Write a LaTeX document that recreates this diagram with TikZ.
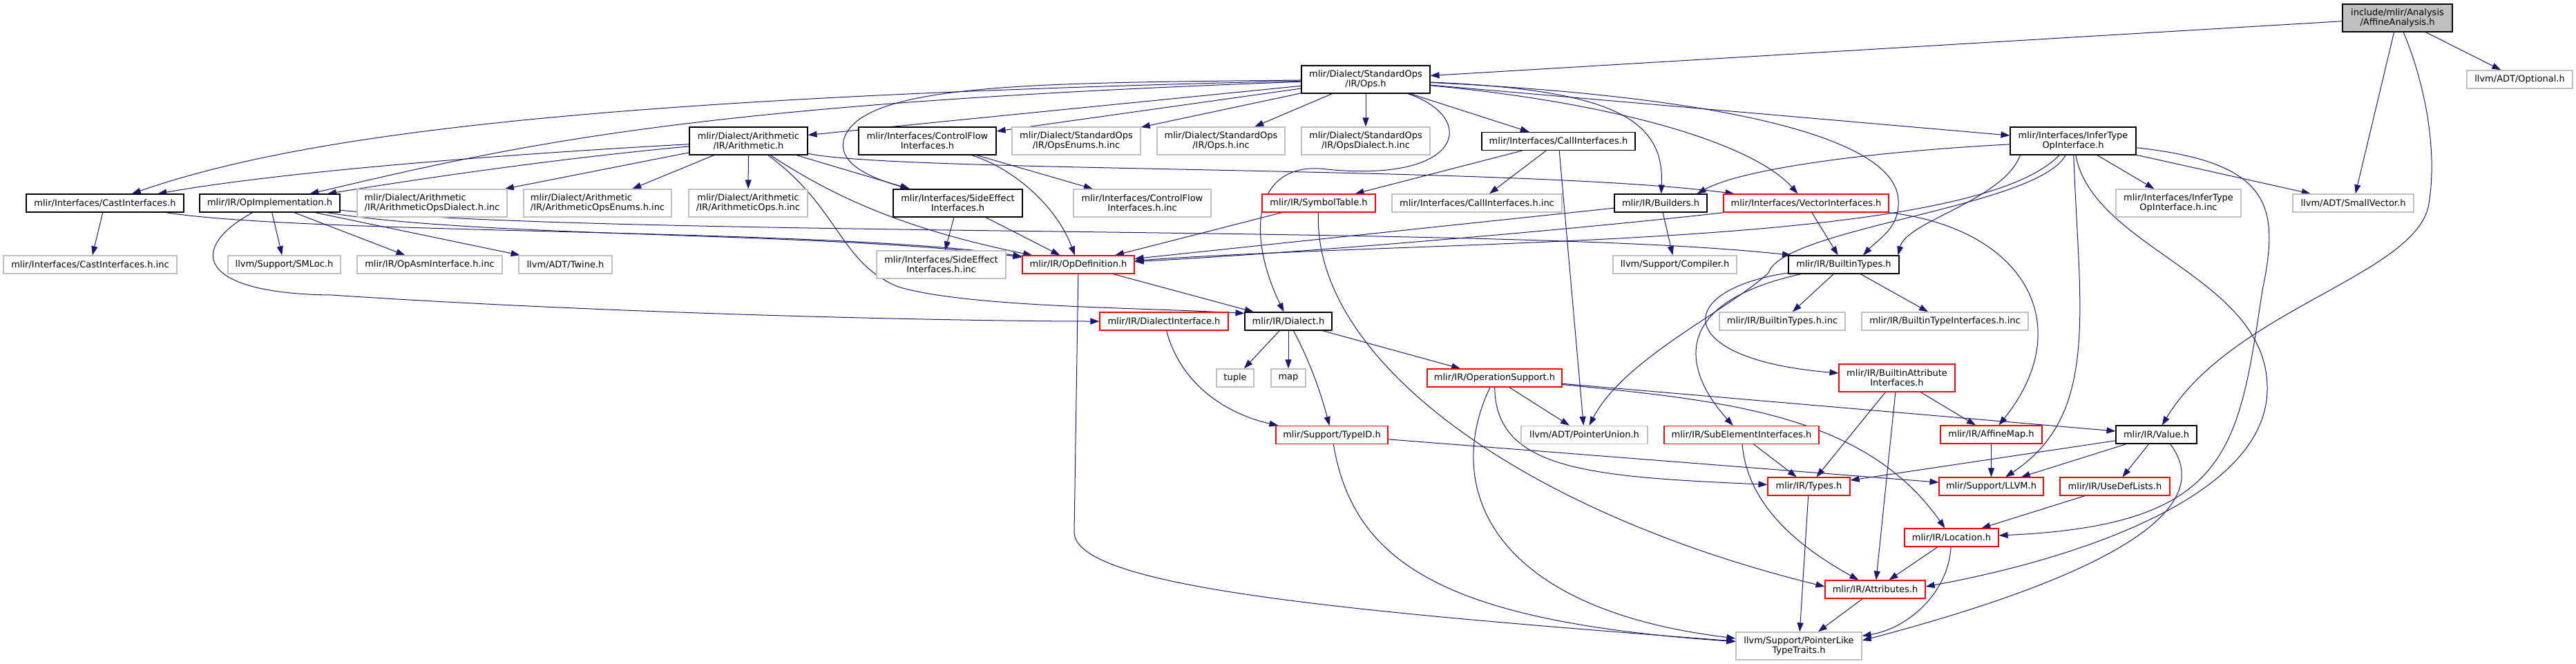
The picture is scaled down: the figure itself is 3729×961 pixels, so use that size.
\documentclass[tikz,border=0pt]{standalone}
\usepackage{fontspec}
\setmainfont{DejaVu Sans}
\usetikzlibrary{arrows.meta}
\definecolor{edgeblue}{HTML}{191970}
\definecolor{boxgray}{HTML}{BFBFBF}
\definecolor{truncred}{HTML}{FF0000}
\pgfdeclarelayer{edges}
\pgfsetlayers{edges,main}
\tikzset{
  box/.style={rectangle, inner sep=0pt, align=center, fill=white, line width=1.1pt,
    font=\fontsize{13}{14}\selectfont},
  wh/.style 2 args={minimum width=#1pt, minimum height=#2pt},
  docbox/.style={box, draw=black},
  redbox/.style={box, draw=truncred},
  extbox/.style={box, draw=boxgray, line width=1.4pt},
  rootbox/.style={box, draw=black, fill=boxgray},
  dep/.style={draw=edgeblue, line width=1pt, -{Triangle[length=13pt,width=9pt]}},
}

\begin{document}
\begin{tikzpicture}[x=1pt, y=-1pt]
\path[use as bounding box] (0,0) rectangle (3729,961);

% files
\node[rootbox, wh={159}{40}] (aa) at (3470.5,26) {include/mlir/Analysis\\/AffineAnalysis.h};
\node[extbox, wh={153}{26}] (opt) at (3647.5,115) {llvm/ADT/Optional.h};
\node[docbox, wh={186}{40}] (ops) at (1977,115) {mlir/Dialect/StandardOps\\/IR/Ops.h};

\node[docbox, wh={171}{40}] (arith) at (1083.5,204) {mlir/Dialect/Arithmetic\\/IR/Arithmetic.h};
\node[docbox, wh={199}{40}] (cflow) at (1342.5,204) {mlir/Interfaces/ControlFlow\\Interfaces.h};
\node[extbox, wh={186}{40}] (opsenuminc) at (1558,204) {mlir/Dialect/StandardOps\\/IR/OpsEnums.h.inc};
\node[extbox, wh={185}{40}] (opsinc) at (1767.5,204) {mlir/Dialect/StandardOps\\/IR/Ops.h.inc};
\node[extbox, wh={186}{40}] (opsdialinc) at (1977,204) {mlir/Dialect/StandardOps\\/IR/OpsDialect.h.inc};
\node[docbox, wh={222}{26}] (callif) at (2256,204.5) {mlir/Interfaces/CallInterfaces.h};
\node[docbox, wh={182}{40}] (infer) at (3001,204) {mlir/Interfaces/InferType\\OpInterface.h};

\node[docbox, wh={228}{26}] (cast) at (152,294) {mlir/Interfaces/CastInterfaces.h};
\node[docbox, wh={203}{26}] (opimpl) at (390.5,294) {mlir/IR/OpImplementation.h};
\node[extbox, wh={217}{40}, align=left] (arithdialinc) at (625.5,294) {mlir/Dialect/Arithmetic\\/IR/ArithmeticOpsDialect.h.inc};
\node[extbox, wh={214}{40}, align=left] (arithenuminc) at (865,294) {mlir/Dialect/Arithmetic\\/IR/ArithmeticOpsEnums.h.inc};
\node[extbox, wh={172}{40}] (arithopsinc) at (1083,294) {mlir/Dialect/Arithmetic\\/IR/ArithmeticOps.h.inc};
\node[docbox, wh={187}{40}] (sideeff) at (1386.5,294) {mlir/Interfaces/SideEffect\\Interfaces.h};
\node[extbox, wh={199}{40}] (cflowinc) at (1653.5,294) {mlir/Interfaces/ControlFlow\\Interfaces.h.inc};
\node[redbox, wh={164}{26}] (symtab) at (1909,294) {mlir/IR/SymbolTable.h};
\node[extbox, wh={246}{26}] (callinc) at (2138,294) {mlir/Interfaces/CallInterfaces.h.inc};
\node[docbox, wh={134}{26}] (builders) at (2404,294) {mlir/IR/Builders.h};
\node[redbox, wh={239}{26}] (vecif) at (2614.5,294) {mlir/Interfaces/VectorInterfaces.h};
\node[extbox, wh={181}{40}] (inferinc) at (3153.5,294) {mlir/Interfaces/InferType\\OpInterface.h.inc};
\node[extbox, wh={175}{26}] (smallvec) at (3406.5,294) {llvm/ADT/SmallVector.h};

\node[extbox, wh={251}{26}] (castinc) at (130.5,383) {mlir/Interfaces/CastInterfaces.h.inc};
\node[extbox, wh={163}{26}] (smloc) at (411.5,383) {llvm/Support/SMLoc.h};
\node[extbox, wh={210}{26}] (opasminc) at (622,383) {mlir/IR/OpAsmInterface.h.inc};
\node[extbox, wh={135}{26}] (twine) at (818.5,383) {llvm/ADT/Twine.h};
\node[extbox, wh={187}{40}] (sideinc) at (1362.5,383) {mlir/Interfaces/SideEffect\\Interfaces.h.inc};
\node[redbox, wh={162}{26}] (opdef) at (1561,383) {mlir/IR/OpDefinition.h};
\node[extbox, wh={179}{26}] (compiler) at (2424.5,383) {llvm/Support/Compiler.h};
\node[docbox, wh={160}{26}] (btypes) at (2669,383) {mlir/IR/BuiltinTypes.h};

\node[redbox, wh={186}{26}] (dialif) at (1685,465) {mlir/IR/DialectInterface.h};
\node[docbox, wh={126}{26}] (dialect) at (1865,465) {mlir/IR/Dialect.h};
\node[extbox, wh={182}{26}] (btypesinc) at (2580,465) {mlir/IR/BuiltinTypes.h.inc};
\node[extbox, wh={241}{26}] (btypeifinc) at (2815.5,465) {mlir/IR/BuiltinTypeInterfaces.h.inc};

\node[extbox, wh={54}{26}] (tuple) at (1788,547) {tuple};
\node[extbox, wh={50}{26}] (map) at (1865,547) {map};
\node[redbox, wh={195}{26}] (opsupp) at (2163.5,547) {mlir/IR/OperationSupport.h};
\node[redbox, wh={168}{40}] (battrif) at (2746,547) {mlir/IR/BuiltinAttribute\\Interfaces.h};

\node[redbox, wh={162}{26}] (typeid) at (1928,629.5) {mlir/Support/TypeID.h};
\node[extbox, wh={183}{26}] (ptrunion) at (2293.5,629.5) {llvm/ADT/PointerUnion.h};
\node[redbox, wh={224}{26}] (subelem) at (2521,629.5) {mlir/IR/SubElementInterfaces.h};
\node[redbox, wh={147}{26}] (affmap) at (2882.5,629) {mlir/IR/AffineMap.h};
\node[docbox, wh={117}{26}] (value) at (3121.5,629) {mlir/IR/Value.h};

\node[redbox, wh={119}{26}] (types) at (2618.5,704) {mlir/IR/Types.h};
\node[redbox, wh={151}{26}] (llvm) at (2882.5,704) {mlir/Support/LLVM.h};
\node[redbox, wh={159}{26}] (usedef) at (3061.5,704) {mlir/IR/UseDefLists.h};
\node[redbox, wh={136}{26}] (location) at (2825,778) {mlir/IR/Location.h};
\node[redbox, wh={145}{26}] (attrs) at (2714.5,853) {mlir/IR/Attributes.h};
\node[extbox, wh={182}{40}] (pltt) at (2604,935) {llvm/Support/PointerLike\\TypeTraits.h};

\begin{pgfonlayer}{edges}
% includes of the root
\draw[dep] (aa) -- (ops);
\draw[dep] (aa) -- (opt);
\draw[dep] (aa) -- (smallvec);
\draw[dep] (aa) .. controls (3510,120) and (3530,220) .. (3515,300) .. controls (3490,400) and (3230,450) .. (value);

% StandardOps/IR/Ops.h
\draw[dep] (ops) .. controls (900,140) and (450,190) .. (cast);
\draw[dep] (ops) .. controls (1000,150) and (750,210) .. (opimpl);
\draw[dep] (ops) -- (arith);
\draw[dep] (ops) -- (cflow);
\draw[dep] (ops) -- (opsenuminc);
\draw[dep] (ops) -- (opsinc);
\draw[dep] (ops) -- (opsdialinc);
\draw[dep] (ops) -- (callif);
\draw[dep] (ops) -- (infer);
\draw[dep] (ops) .. controls (2330,130) and (2410,170) .. (builders);
\draw[dep] (ops) .. controls (2350,150) and (2540,210) .. (vecif);
\draw[dep] (ops) .. controls (2500,140) and (2745,200) .. (2748,290) .. controls (2750,330) and (2720,345) .. ([xshift=28pt]btypes.north);
\draw[dep] (ops) .. controls (1500,120) and (1250,120) .. (1222,200) .. controls (1210,240) and (1270,260) .. (sideeff);
\draw[dep] (ops) .. controls (2140,170) and (2120,265) .. (1920,245) .. controls (1820,232) and (1800,330) .. (dialect);

% Arithmetic.h
\draw[dep] (arith) .. controls (700,225) and (400,250) .. (cast);
\draw[dep] (arith) .. controls (800,230) and (600,260) .. (opimpl);
\draw[dep] (arith) -- (arithdialinc);
\draw[dep] (arith) -- (arithenuminc);
\draw[dep] (arith) -- (arithopsinc);
\draw[dep] (arith) -- (sideeff);
\draw[dep] (arith) .. controls (1300,250) and (2200,240) .. (vecif);
\draw[dep] (arith) .. controls (1200,280) and (1300,330) .. (opdef);
\draw[dep] (arith) .. controls (1215,300) and (1215,380) .. (1300,415) .. controls (1400,445) and (1650,445) .. ([yshift=-2pt]dialect.north west);

% OpImplementation.h
\draw[dep] (opimpl) -- (smloc);
\draw[dep] (opimpl) -- (opasminc);
\draw[dep] (opimpl) -- (twine);
\draw[dep] (opimpl) .. controls (270,360) and (285,425) .. (480,427) .. controls (900,455) and (1400,465) .. (dialif);
\draw[dep] (opimpl) .. controls (700,345) and (1200,335) .. (opdef);
\draw[dep] (opimpl) .. controls (900,345) and (2200,325) .. ([xshift=-76pt]btypes.north);

% interfaces
\draw[dep] (cast) -- (castinc);
\draw[dep] (cast) .. controls (450,340) and (1200,330) .. (opdef);
\draw[dep] (sideeff) -- (sideinc);
\draw[dep] (sideeff) -- (opdef);
\draw[dep] (cflow) -- (cflowinc);
\draw[dep] (cflow) .. controls (1470,245) and (1530,300) .. (opdef);
\draw[dep] (callif) -- (symtab);
\draw[dep] (callif) -- (callinc);
\draw[dep] (callif) -- (ptrunion);
\draw[dep] (symtab) -- (opdef);
\draw[dep] (symtab) .. controls (1900,520) and (2200,740) .. ([yshift=4pt]attrs.west);
\draw[dep] (builders) -- (opdef);
\draw[dep] (builders) -- (compiler);
\draw[dep] (vecif) .. controls (2300,330) and (1900,365) .. (opdef);
\draw[dep] (vecif) -- (btypes);
\draw[dep] (vecif) .. controls (2930,330) and (3010,470) .. (affmap);

% InferTypeOpInterface.h
\draw[dep] (infer) .. controls (2700,220) and (2520,245) .. ([xshift=-15pt]builders.north east);
\draw[dep] ([xshift=15pt]infer.south west) .. controls (2900,290) and (2760,320) .. ([xshift=-2pt]btypes.north east);
\draw[dep] (infer) .. controls (2850,360) and (2100,345) .. (opdef);
\draw[dep] (infer) .. controls (2950,300) and (2580,330) .. (2560,395) .. controls (2500,450) and (2350,520) .. (ptrunion);
\draw[dep] (infer) .. controls (3010,450) and (3040,600) .. (llvm);
\draw[dep] (infer) .. controls (3290,235) and (3300,300) .. (3275,420) .. controls (3240,650) and (3230,760) .. (location);
\draw[dep] (infer) .. controls (3030,360) and (3280,400) .. (3282,560) .. controls (3285,720) and (3000,810) .. ([yshift=4pt]attrs.east);
\draw[dep] (infer) -- (smallvec);
\draw[dep] (infer) -- (inferinc);

% IR core
\draw[dep] (opdef) -- (dialect);
\draw[dep] (opdef) -- (1555,770) .. controls (1555,850) and (1950,885) .. (pltt);
\draw[dep] (dialect) -- (tuple);
\draw[dep] (dialect) -- (map);
\draw[dep] (dialect) .. controls (1900,530) and (1915,580) .. (typeid);
\draw[dep] (dialect) -- (opsupp);
\draw[dep] (dialif) .. controls (1710,560) and (1780,600) .. ([xshift=4pt]typeid.north west);
\draw[dep] (typeid) -- (llvm);
\draw[dep] (typeid) .. controls (1960,820) and (2100,900) .. (pltt);
\draw[dep] (opsupp) -- (ptrunion);
\draw[dep] (opsupp) -- (value);
\draw[dep] (opsupp) .. controls (2165,680) and (2300,690) .. (types);
\draw[dep] (opsupp) .. controls (2500,580) and (2700,600) .. (location);
\draw[dep] (opsupp) .. controls (2090,700) and (2150,880) .. (pltt);

% builtin types and attributes
\draw[dep] (btypes) -- (btypesinc);
\draw[dep] (btypes) -- (btypeifinc);
\draw[dep] (btypes) .. controls (2420,420) and (2420,520) .. (battrif);
\draw[dep] (btypes) .. controls (2410,440) and (2440,540) .. (subelem);
\draw[dep] (battrif) -- (affmap);
\draw[dep] (battrif) -- (types);
\draw[dep] (battrif) -- (attrs);
\draw[dep] (subelem) -- (types);
\draw[dep] (subelem) .. controls (2530,740) and (2620,800) .. (attrs);
\draw[dep] (affmap) -- (llvm);
\draw[dep] (value) -- (types);
\draw[dep] (value) -- (llvm);
\draw[dep] (value) -- (usedef);
\draw[dep] ([xshift=20pt]value.south) .. controls (3230,760) and (2950,860) .. ([yshift=8pt]pltt.east);
\draw[dep] (usedef) -- (location);
\draw[dep] (location) -- (attrs);
\draw[dep] (location) .. controls (2820,860) and (2760,910) .. (pltt);
\draw[dep] (attrs) -- (pltt);
\draw[dep] (types) -- (pltt);
\end{pgfonlayer}
\end{tikzpicture}
\end{document}
